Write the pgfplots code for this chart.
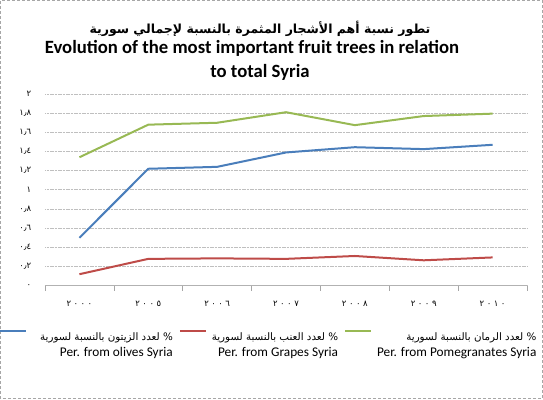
\documentclass[border=0pt]{standalone}
\usepackage{pgfplots}
\pgfplotsset{compat=1.18}
\usepackage{fontspec}
\setmainfont{Carlito}
\newfontfamily\arabicfont[Script=Arabic]{DejaVu Sans}
\TeXXeTstate=1
\definecolor{cblue}{RGB}{74,126,187}
\definecolor{cred}{RGB}{190,75,72}
\definecolor{cgreen}{RGB}{152,185,84}
\pgfplotstableread{
x olives grapes pomeg
0 0.50 0.12 1.34
1 1.22 0.28 1.68
2 1.24 0.285 1.70
3 1.39 0.28 1.81
4 1.445 0.31 1.675
5 1.425 0.265 1.77
6 1.47 0.295 1.795
}\datatable
\newcommand{\ad}[4]{#1\kern2.5pt#2\kern2.5pt#3\kern2.5pt#4}
\newcommand{\lent}[3][0pt]{\begin{tabular}{@{\hspace{#1}}r@{}}{\arabicfont\fontsize{10.3}{12}\selectfont\beginR\% #2\endR}\hspace{7pt}\\[0pt]#3\end{tabular}}
\begin{document}
\begin{tikzpicture}
\path[use as bounding box] (-45pt,-113.3pt) rectangle (498pt,285.7pt);
\draw[gray!70, densely dashed] (-44.6pt,-112.9pt) rectangle (497.6pt,285.3pt);
\node[font=\arabicfont\bfseries\fontsize{12.5}{14}\selectfont] at (215pt,257pt) {\beginR تطور نسبة أهم الأشجار المثمرة بالنسبة لإجمالي سورية\endR};
\node[font=\bfseries\fontsize{18.7}{20}\selectfont] at (207pt,237.2pt) {Evolution of the most important fruit trees in relation};
\node[font=\bfseries\fontsize{18.7}{20}\selectfont] at (215pt,213.2pt) {to total Syria};
\begin{axis}[
  scale only axis, width=482pt, height=191.7pt,
  xmin=-0.5, xmax=6.5, ymin=0, ymax=2,
  axis x line*=bottom, axis y line*=left,
  y axis line style={draw=none},
  x axis line style={gray!60, line width=0.8pt},
  xtick={0,1,2,3,4,5,6},
  xticklabels={\ad{٢}{٠}{٠}{٠},\ad{٢}{٠}{٠}{٥},\ad{٢}{٠}{٠}{٦},\ad{٢}{٠}{٠}{٧},\ad{٢}{٠}{٠}{٨},\ad{٢}{٠}{٠}{٩},\ad{٢}{٠}{١}{٠}},
  xticklabel style={font=\arabicfont\fontsize{8.5}{9}\selectfont, yshift=-8pt},
  major x tick style={draw=none},
  minor xtick={-0.5,0.5,1.5,2.5,3.5,4.5,5.5,6.5},
  minor x tick style={gray!70, line width=0.6pt},
  minor tick length=5pt,
  tick align=outside,
  ytick={0,0.2,0.4,0.6,0.8,1,1.2,1.4,1.6,1.8,2},
  yticklabels={٠,٠٫٢,٠٫٤,٠٫٦,٠٫٨,١,١٫٢,١٫٤,١٫٦,١٫٨,٢},
  yticklabel style={font=\arabicfont\fontsize{8.5}{9}\selectfont, xshift=-6pt},
  ytick style={draw=none},
  ymajorgrids,
  grid style={gray!50, line width=0.8pt, dash pattern=on 1.2pt off 0.4pt},
  legend columns=3,
  legend style={draw=none, fill=none, inner sep=0pt, at={(-0.0954,-0.2154)}, anchor=north west,
    font=\fontsize{13.3}{16}\selectfont,
    /tikz/every even column/.append style={column sep=4pt},
    /tikz/every odd column/.append style={column sep=3pt}},
  legend image code/.code={\draw[#1] (0pt,9pt) -- (26pt,9pt);},
  every axis plot/.append style={line width=2pt},
]
\addplot[cblue] table[x=x,y=olives] {\datatable};
\addlegendentry{\lent[8pt]{لعدد الزيتون بالنسبة لسورية}{Per. from olives Syria}}
\addplot[cred] table[x=x,y=grapes] {\datatable};
\addlegendentry{\lent{لعدد العنب بالنسبة لسورية}{Per. from Grapes Syria}}
\addplot[cgreen] table[x=x,y=pomeg] {\datatable};
\addlegendentry{\lent{لعدد الرمان بالنسبة لسورية}{Per. from Pomegranates Syria}}
\end{axis}
\end{tikzpicture}
\end{document}
